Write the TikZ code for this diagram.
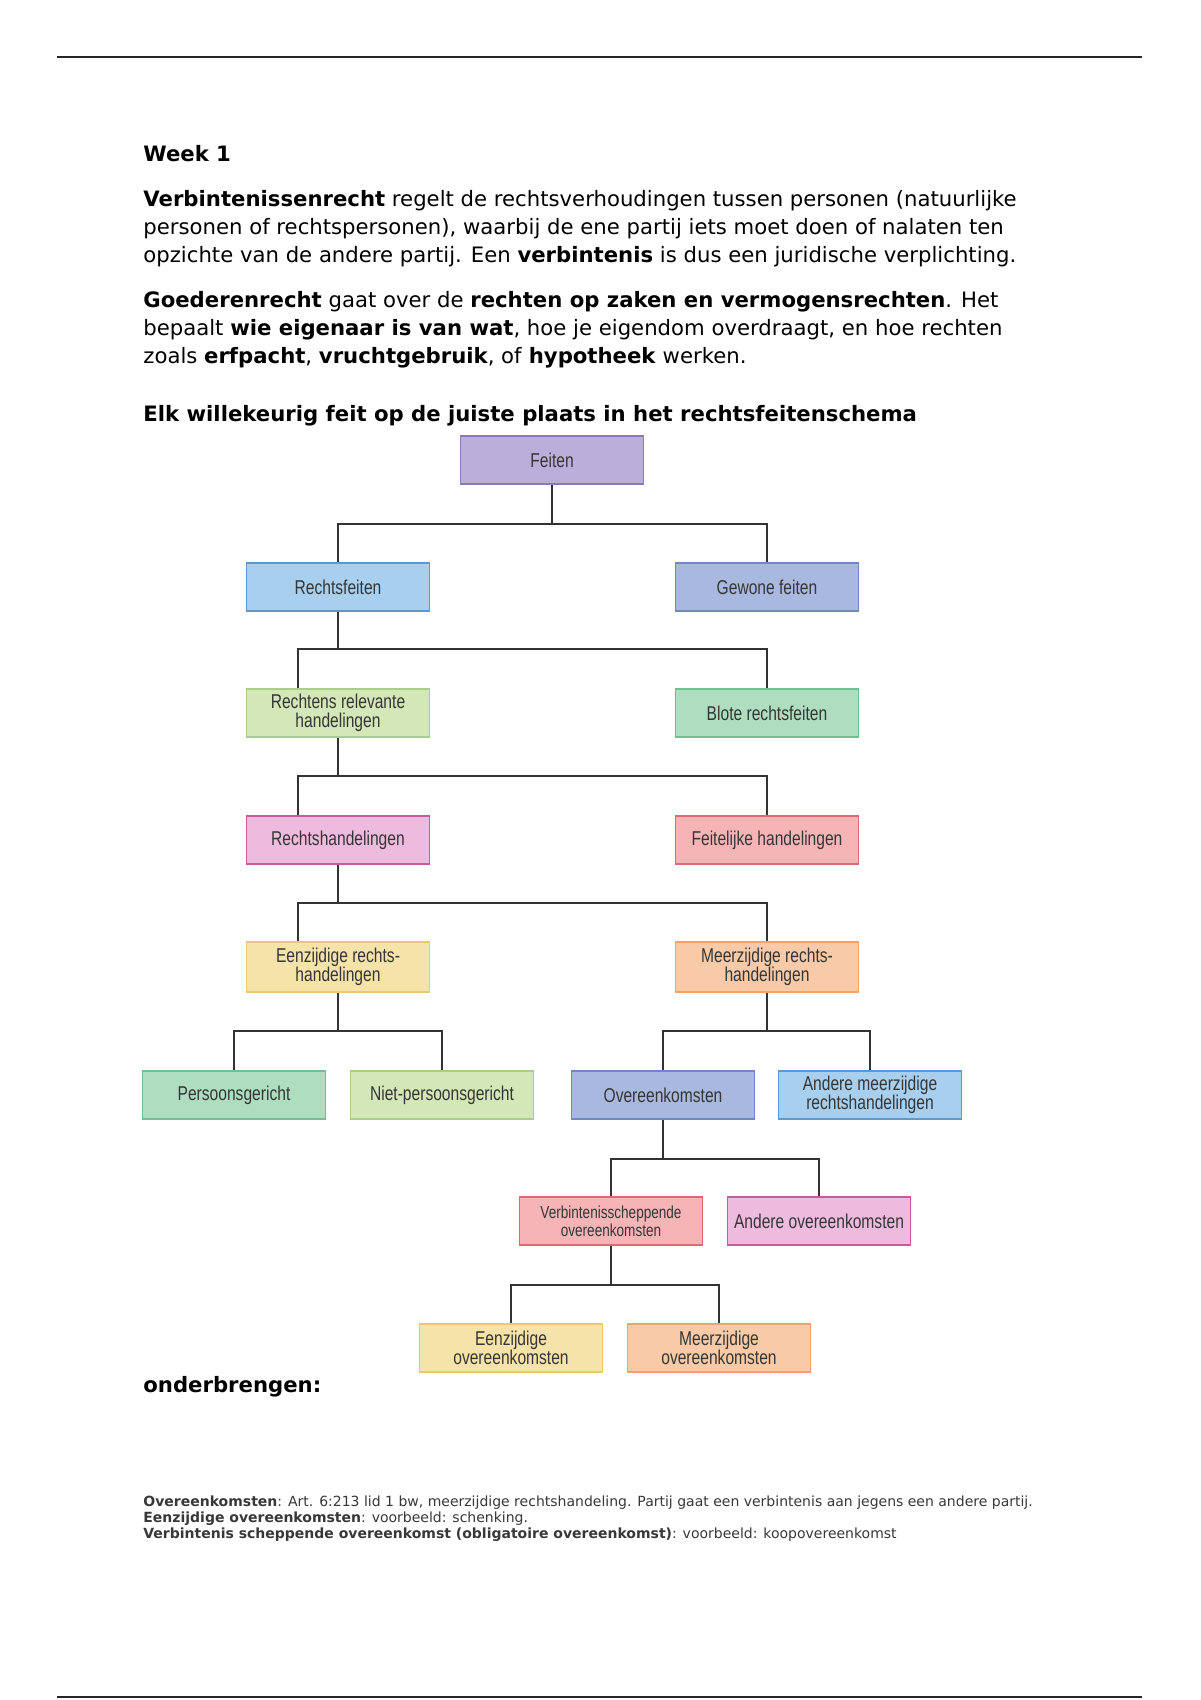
\documentclass[tikz,border=0pt]{standalone}
\usepackage{fontspec}
\setmainfont{DejaVu Sans}
\newfontfamily\boxfont[FakeStretch=0.78]{Liberation Sans}
\definecolor{LinkGray}{HTML}{333333}
\definecolor{BoxInk}{HTML}{363636}
\definecolor{NoteGray}{HTML}{383838}
\definecolor{LilacFill}{HTML}{BBAEDB}
\definecolor{LilacLine}{HTML}{8C7AB8}
\definecolor{SkyFill}{HTML}{A8CFEE}
\definecolor{SkyLine}{HTML}{5B9AD0}
\definecolor{SlateFill}{HTML}{A8B8DF}
\definecolor{SlateLine}{HTML}{6F88C3}
\definecolor{LimeFill}{HTML}{D3E7B8}
\definecolor{LimeLine}{HTML}{ABCD8C}
\definecolor{MintFill}{HTML}{AEDDBF}
\definecolor{MintLine}{HTML}{72C091}
\definecolor{PinkFill}{HTML}{EDBBDE}
\definecolor{PinkLine}{HTML}{C85A9F}
\definecolor{SalmonFill}{HTML}{F5B5B7}
\definecolor{SalmonLine}{HTML}{DD6A70}
\definecolor{YellowFill}{HTML}{F5E3AA}
\definecolor{YellowLine}{HTML}{E9CA6C}
\definecolor{OrangeFill}{HTML}{F8CAA7}
\definecolor{OrangeLine}{HTML}{EFA46E}
\tikzset{
  box/.style={draw, line width=0.8pt, minimum width=91.5pt, minimum height=24pt, inner sep=1pt, align=center, text=BoxInk, font=\boxfont\fontsize{10}{9.8}\selectfont},
  lilacbox/.style={box, draw=LilacLine, fill=LilacFill},
  skybox/.style={box, draw=SkyLine, fill=SkyFill},
  slatebox/.style={box, draw=SlateLine, fill=SlateFill},
  limebox/.style={box, draw=LimeLine, fill=LimeFill},
  mintbox/.style={box, draw=MintLine, fill=MintFill},
  pinkbox/.style={box, draw=PinkLine, fill=PinkFill},
  salmonbox/.style={box, draw=SalmonLine, fill=SalmonFill},
  yellowbox/.style={box, draw=YellowLine, fill=YellowFill},
  orangebox/.style={box, draw=OrangeLine, fill=OrangeFill},
  link/.style={line width=1.3pt, draw=LinkGray},
  pagerule/.style={line width=1pt, draw=black!85},
  heading/.style={anchor=base west, inner sep=0pt, font=\bfseries\fontsize{10.6}{12}\selectfont},
  para/.style={anchor=north west, inner sep=0pt, align=left, font=\fontsize{10.6}{14}\selectfont},
  note/.style={anchor=north west, inner sep=0pt, align=left, text=NoteGray, font=\fontsize{7}{8}\selectfont}
}
\begin{document}
\begin{tikzpicture}[x=0.5pt, y=-0.5pt]
\useasboundingbox[fill=white] (0,0) rectangle (1200,1700);
\draw[pagerule] (57,57) -- (1142,57);
\draw[pagerule] (57,1697) -- (1142,1697);

% text above the scheme
\node[heading] (week) at (143,162) {Week 1};
\node[para] (verbrecht) at (143,190) {\textbf{Verbintenissenrecht} regelt de rechtsverhoudingen tussen personen (natuurlijke\\personen of rechtspersonen), waarbij de ene partij iets moet doen of nalaten ten\\opzichte van de andere partij. Een \textbf{verbintenis} is dus een juridische verplichting.};
\node[para] (goedrecht) at (143,291) {\textbf{Goederenrecht} gaat over de \textbf{rechten op zaken en vermogensrechten}. Het\\bepaalt \textbf{wie eigenaar is van wat}, hoe je eigendom overdraagt, en hoe rechten\\zoals \textbf{erfpacht}, \textbf{vruchtgebruik}, of \textbf{hypotheek} werken.};
\node[heading] (elk) at (143,422) {Elk willekeurig feit op de juiste plaats in het rechtsfeitenschema};

% scheme
\node[lilacbox] (feiten) at (552,460) {Feiten};
\node[skybox] (rechtsfeiten) at (338,587) {Rechtsfeiten};
\node[slatebox] (gewone) at (767,587) {Gewone feiten};
\node[limebox] (relevant) at (338,713) {Rechtens relevante\\handelingen};
\node[mintbox] (blote) at (767,713) {Blote rechtsfeiten};
\node[pinkbox] (rhand) at (338,840) {Rechtshandelingen};
\node[salmonbox] (feitelijk) at (767,840) {Feitelijke handelingen};
\node[yellowbox, minimum height=25pt] (eenrh) at (338,967) {Eenzijdige rechts-\\handelingen};
\node[orangebox, minimum height=25pt] (meerrh) at (767,967) {Meerzijdige rechts-\\handelingen};
\node[mintbox] (persoon) at (234,1095) {Persoonsgericht};
\node[limebox] (nietpersoon) at (442,1095) {Niet-persoonsgericht};
\node[slatebox] (overeenk) at (663,1095) {Overeenkomsten};
\node[skybox] (anderemeer) at (870,1095) {Andere meerzijdige\\rechtshandelingen};
\node[salmonbox, font=\boxfont\fontsize{8.7}{9.2}\selectfont] (verbsch) at (611,1221) {Verbintenisscheppende\\overeenkomsten};
\node[pinkbox] (andereov) at (819,1221) {Andere overeenkomsten};
\node[yellowbox] (eenov) at (511,1348) {Eenzijdige\\overeenkomsten};
\node[orangebox] (meerov) at (719,1348) {Meerzijdige\\overeenkomsten};

\coordinate (j1) at (552,524);
\coordinate (j2) at (298,649);
\coordinate (j3) at (298,776);
\coordinate (j4) at (298,903);
\coordinate (j5a) at (338,1031);
\coordinate (j5b) at (767,1031);
\coordinate (j6) at (663,1159);
\coordinate (j7) at (611,1285);

\draw[link] (feiten) -- (j1);
\draw[link] (j1) -| (rechtsfeiten);
\draw[link] (j1) -| (gewone);
\draw[link] (rechtsfeiten) |- (j2) -- (relevant.north -| j2);
\draw[link] (j2) -| (blote);
\draw[link] (relevant) |- (j3) -- (rhand.north -| j3);
\draw[link] (j3) -| (feitelijk);
\draw[link] (rhand) |- (j4) -- (eenrh.north -| j4);
\draw[link] (j4) -| (meerrh);
\draw[link] (eenrh) -- (j5a);
\draw[link] (j5a) -| (persoon);
\draw[link] (j5a) -| (nietpersoon);
\draw[link] (meerrh) -- (j5b);
\draw[link] (j5b) -| (overeenk);
\draw[link] (j5b) -| (anderemeer);
\draw[link] (overeenk) -- (j6);
\draw[link] (j6) -| (verbsch);
\draw[link] (j6) -| (andereov);
\draw[link] (verbsch) -- (j7);
\draw[link] (j7) -| (eenov);
\draw[link] (j7) -| (meerov);

% text below the scheme
\node[heading] (onder) at (143,1392) {onderbrengen:};
\node[note] (notes) at (143,1495) {\textbf{Overeenkomsten}: Art. 6:213 lid 1 bw, meerzijdige rechtshandeling. Partij gaat een verbintenis aan jegens een andere partij.\\\textbf{Eenzijdige overeenkomsten}: voorbeeld: schenking.\\\textbf{Verbintenis scheppende overeenkomst (obligatoire overeenkomst)}: voorbeeld: koopovereenkomst};
\end{tikzpicture}
\end{document}
